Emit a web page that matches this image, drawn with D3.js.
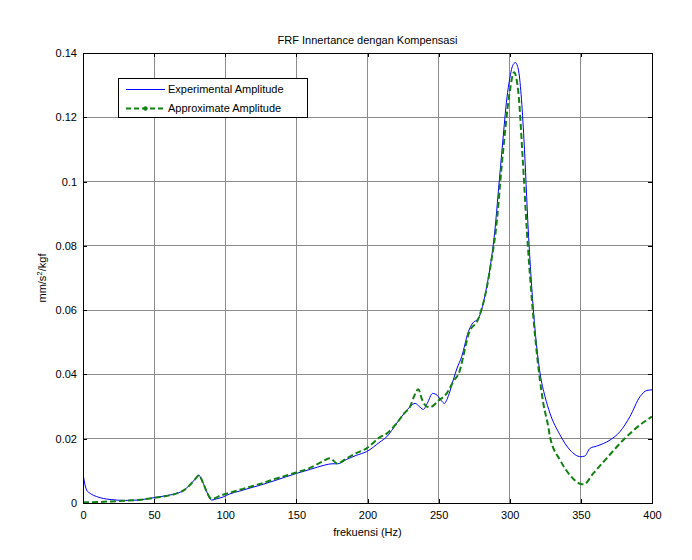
<!DOCTYPE html>
<html>
<head>
<meta charset="utf-8">
<script src="https://cdn.jsdelivr.net/npm/d3@7"></script>
<style>
    body { margin: 0; background: #fff; }
    svg { display: block; }
    text { font-family: "Liberation Sans", Arial, sans-serif; font-size: 11px; fill: #000; }
    .grid line { stroke: #8c8c8c; stroke-width: 1; shape-rendering: crispEdges; }
    .axis path, .axis line { stroke: #000; shape-rendering: crispEdges; }
</style>
</head>
<body>
<div id="chart"></div>
<script>
// experimental amplitude (blue)
let freqExp = [0, 1, 2.6, 5, 9.6, 19, 30, 38, 45, 52, 60, 66, 71, 75, 79, 81.5, 83, 84.6, 87, 89.5, 90.5, 94, 98.6, 103, 110, 117, 125, 135, 150, 160, 170, 175, 179, 185, 192, 199.4, 208.8, 213.5, 220.5, 226, 230, 233.5, 236, 239.2, 242, 245.8, 249, 252, 254, 257, 260.3, 263, 266.2, 270.9, 274, 277.9, 283.8, 287.3, 289.6, 292, 295, 298, 300, 302, 304, 306, 308, 310, 313, 317.8, 321.3, 324.8, 328.3, 335.3, 342.3, 349.9, 352.7, 356.4, 361.1, 370.5, 377.5, 384.5, 391.6, 396.3, 400];
let ampExp = [0.0092, 0.0065, 0.004, 0.003, 0.002, 0.0011, 0.0008, 0.0009, 0.0013, 0.0018, 0.0024, 0.003, 0.004, 0.0056, 0.0075, 0.0087, 0.0075, 0.0061, 0.0035, 0.0012, 0.0009, 0.0013, 0.0019, 0.0028, 0.0037, 0.0046, 0.0056, 0.007, 0.0092, 0.0105, 0.0118, 0.0122, 0.0122, 0.0135, 0.0148, 0.016, 0.019, 0.0206, 0.0248, 0.028, 0.030, 0.031, 0.0302, 0.0291, 0.031, 0.0341, 0.0335, 0.0318, 0.031, 0.0335, 0.0383, 0.042, 0.0455, 0.0533, 0.056, 0.0574, 0.0673, 0.0766, 0.085, 0.097, 0.112, 0.126, 0.132, 0.136, 0.137, 0.135, 0.127, 0.113, 0.085, 0.0538, 0.0404, 0.0331, 0.0279, 0.0212, 0.0165, 0.0144, 0.0146, 0.017, 0.0177, 0.0196, 0.0222, 0.0269, 0.0331, 0.035, 0.0352];

// approximate amplitude (green)
let freqApp = [0, 10, 20, 30, 40, 50, 60, 66, 71, 75, 79, 81.5, 84.6, 87, 89.5, 91, 95, 100, 105, 110, 117, 125, 135, 150, 160, 168, 173.6, 178.8, 185, 192, 199.4, 208.8, 213.5, 220.5, 226, 230, 233, 235.7, 238.5, 241.6, 244, 249.8, 255.7, 260.3, 265, 267, 271, 278, 284, 287.5, 290, 295, 300, 303, 306, 309, 312, 317.8, 321.3, 323.6, 327.1, 328.3, 335.3, 342.3, 349.9, 352, 358.7, 368.1, 379.8, 391.6, 400];
let ampApp = [0.0002, 0.0003, 0.0005, 0.0007, 0.001, 0.0016, 0.0023, 0.003, 0.004, 0.0055, 0.0075, 0.0086, 0.006, 0.0035, 0.0015, 0.0013, 0.002, 0.0028, 0.0034, 0.0041, 0.005, 0.006, 0.0075, 0.0095, 0.011, 0.0128, 0.0139, 0.0123, 0.0138, 0.0155, 0.017, 0.0205, 0.0216, 0.0248, 0.028, 0.030, 0.0335, 0.0354, 0.032, 0.030, 0.0298, 0.0318, 0.0341, 0.0378, 0.0414, 0.045, 0.0525, 0.0574, 0.0673, 0.0766, 0.084, 0.108, 0.128, 0.134, 0.128, 0.108, 0.085, 0.052, 0.038, 0.031, 0.0237, 0.0206, 0.0134, 0.0087, 0.0059, 0.0058, 0.0092, 0.0139, 0.0196, 0.0243, 0.0269];

let xTicks = [0, 50, 100, 150, 200, 250, 300, 350, 400];
let yTicks = [0, 0.02, 0.04, 0.06, 0.08, 0.1, 0.12, 0.14];
let yTickLabels = ["0", "0.02", "0.04", "0.06", "0.08", "0.1", "0.12", "0.14"];
let seriesNames = ["Experimental Amplitude", "Approximate Amplitude"];

let margin = {top: 53, right: 40, left: 83, bottom: 57};
let width = 692 - margin.left - margin.right;
let height = 560 - margin.top - margin.bottom;

let svg = d3.select("#chart")
    .append("svg")
    .attr("width", 692)
    .attr("height", 560);

let chart = svg.append("g")
    .attr("transform", "translate(" + margin.left + ", " + margin.top + ")");

let xScale = d3.scaleLinear().domain([0, 400]).range([0, width]);
let yScale = d3.scaleLinear().domain([0, 0.14]).range([height, 0]);

// grid
let grid = chart.append("g").attr("class", "grid");
grid.selectAll(".gx")
    .data(xTicks.slice(1, -1))
    .enter().append("line")
    .attr("x1", d => xScale(d)).attr("x2", d => xScale(d))
    .attr("y1", 0).attr("y2", height);
grid.selectAll(".gy")
    .data(yTicks.slice(1, -1))
    .enter().append("line")
    .attr("x1", 0).attr("x2", width)
    .attr("y1", d => yScale(d)).attr("y2", d => yScale(d));

let clip = chart.append("clipPath").attr("id", "clip")
    .append("rect").attr("width", width).attr("height", height + 2).attr("y", -1);

let line = d3.line()
    .x(d => xScale(d[0]))
    .y(d => yScale(d[1]))
    .curve(d3.curveMonotoneX);

chart.append("path")
    .datum(freqExp.map((f, i) => [f, ampExp[i]]))
    .attr("d", line)
    .attr("clip-path", "url(#clip)")
    .attr("fill", "none")
    .attr("stroke", "#0000ff")
    .attr("stroke-width", 1);

chart.append("path")
    .datum(freqApp.map((f, i) => [f, ampApp[i]]))
    .attr("d", line)
    .attr("clip-path", "url(#clip)")
    .attr("fill", "none")
    .attr("stroke", "#138013")
    .attr("stroke-width", 2)
    .attr("stroke-dasharray", "6,3");

// axes with inward ticks on all four sides
let xAxis = d3.axisBottom(xScale).tickValues(xTicks).tickSizeInner(-4).tickSizeOuter(0).tickPadding(8);
let yAxis = d3.axisLeft(yScale).tickValues(yTicks).tickFormat((d, i) => yTickLabels[i]).tickSizeInner(-4).tickSizeOuter(0).tickPadding(6);

chart.append("g")
    .attr("class", "axis")
    .attr("transform", "translate(0," + height + ")")
    .call(xAxis)
    .call(g => g.selectAll("text").style("font-size", "11px").style("font-family", "Liberation Sans, Arial, sans-serif"));

chart.append("g")
    .attr("class", "axis")
    .call(yAxis)
    .call(g => g.selectAll("text").style("font-size", "11px").style("font-family", "Liberation Sans, Arial, sans-serif"));

chart.append("g")
    .attr("class", "axis")
    .call(d3.axisTop(xScale).tickValues(xTicks).tickSizeInner(-4).tickSizeOuter(0).tickFormat(""));

chart.append("g")
    .attr("class", "axis")
    .attr("transform", "translate(" + width + ",0)")
    .call(d3.axisRight(yScale).tickValues(yTicks).tickSizeInner(-4).tickSizeOuter(0).tickFormat(""));

chart.append("rect")
    .attr("x", 0.5).attr("y", 0.5)
    .attr("width", width).attr("height", height)
    .attr("fill", "none")
    .attr("stroke", "#000")
    .attr("stroke-width", 1)
    .style("shape-rendering", "crispEdges");

// title and labels
chart.append("text")
    .attr("x", width / 2)
    .attr("y", -9)
    .attr("text-anchor", "middle")
    .text("FRF Innertance dengan Kompensasi");

chart.append("text")
    .attr("x", width / 2)
    .attr("y", height + 33)
    .attr("text-anchor", "middle")
    .text("frekuensi (Hz)");

let ylab = chart.append("text")
    .attr("transform", "translate(-37," + (height / 2) + ") rotate(-90)")
    .attr("text-anchor", "middle");
ylab.append("tspan").text("mm/s");
ylab.append("tspan").attr("baseline-shift", "super").style("font-size", "8px").text("2");
ylab.append("tspan").text("/kgf");

// legend
let legend = chart.append("g")
    .attr("transform", "translate(" + (118 - margin.left) + "," + (78 - margin.top) + ")");

legend.append("rect")
    .attr("x", 0.5).attr("y", 0.5)
    .attr("width", 189).attr("height", 39)
    .attr("fill", "#fff")
    .attr("stroke", "#000")
    .style("shape-rendering", "crispEdges");

legend.append("line")
    .attr("x1", 8).attr("x2", 47)
    .attr("y1", 11.5).attr("y2", 11.5)
    .attr("stroke", "#0000ff");

legend.append("line")
    .attr("x1", 8).attr("x2", 47)
    .attr("y1", 30.5).attr("y2", 30.5)
    .attr("stroke", "#138013")
    .attr("stroke-width", 2)
    .attr("stroke-dasharray", "5,3");

legend.append("circle")
    .attr("cx", 27.5).attr("cy", 30.5).attr("r", 2.2)
    .attr("fill", "#138013");

legend.selectAll(".ltext")
    .data(seriesNames)
    .enter().append("text")
    .attr("x", 50)
    .attr("y", (d, i) => 15 + i * 19)
    .text(d => d);
</script>
</body>
</html>
